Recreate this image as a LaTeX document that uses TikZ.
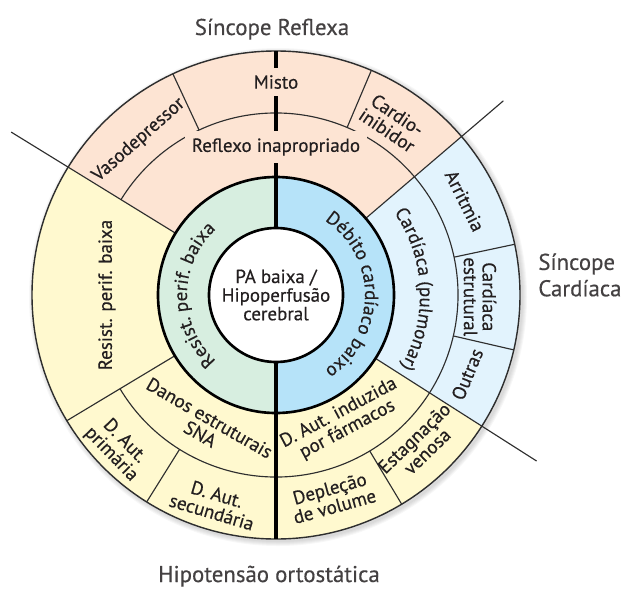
\documentclass[tikz,border=0pt]{standalone}
\usepackage{fontspec}
\setmainfont{PT Sans}[FakeBold=0.4]
\usepackage{tikz}
\usetikzlibrary{decorations.text}
\definecolor{reflexo}{HTML}{FDE4D3}
\definecolor{cardio}{HTML}{E2F3FD}
\definecolor{orto}{HTML}{FFF9CF}
\definecolor{debito}{HTML}{B6E3F9}
\definecolor{resist}{HTML}{D7EEE0}
\definecolor{ink}{HTML}{231F20}
\definecolor{rule}{HTML}{2E2E2E}
\newcommand{\lblfont}{\fontsize{10.8}{10.6}\selectfont}
\newcommand{\ringpart}[5]{%
  \fill[#1] (#2:#4) arc[start angle=#2,end angle=#3,radius=#4]
    -- (#3:#5) arc[start angle=#3,end angle=#2,radius=#5] -- cycle;}
\tikzset{
  lbl/.style={text=ink,font=\lblfont,align=center,inner sep=1pt},
  ttl/.style={text=ink!85,font=\fontsize{13}{15}\selectfont,inner sep=0pt},
  sepline/.style={draw=rule,line width=0.65pt},
  rimline/.style={draw=rule,line width=0.8pt},
  ringedge/.style={draw=black,line width=1.5pt},
  axisline/.style={draw=black,line width=2.1pt},
  arctext/.style={decorate,decoration={text along path,text align=center,
      text color=ink,text={|\lblfont|#1}}}
}

\begin{document}
\begin{tikzpicture}[x=0.02cm,y=0.02cm]
  \useasboundingbox (-276,-294) rectangle (345,295);
  % soft shadow
  \foreach \s in {1,...,5}
    \fill[black,opacity=0.03] (2,-2) circle[radius=244+\s];
  % sectors
  \ringpart{reflexo}{40.5}{148.4}{118}{244}
  \ringpart{orto}{148.4}{327.5}{118}{244}
  \ringpart{cardio}{-32.5}{40.5}{118}{244}
  \ringpart{resist}{90}{270}{67}{118}
  \ringpart{debito}{-90}{90}{67}{118}
  \fill[white] (0,0) circle[radius=67];
  % separators
  \draw[rimline] (0,0) circle[radius=244];
  \draw[sepline] (-149:182) arc[start angle=-149,end angle=148.4,radius=182];
  \foreach \a/\r in {148.4/311, 40.5/299, -32.5/309}
    \draw[sepline] (\a:118) -- (\a:\r);
  \foreach \a/\ri in {211/118, 115/182, 67/182, 12/182, -13/182, 238/182, 301/182}
    \draw[sepline] (\a:\ri) -- (\a:244);
  \draw[ringedge] (0,0) circle[radius=118];
  \draw[ringedge] (0,0) circle[radius=67];
  \draw[axisline] (90:67) -- (90:244);
  \draw[axisline] (270:67) -- (270:244);
  % labels
  \node[lbl,fill=reflexo,inner sep=4pt] (misto) at (90:213) {Misto};
  \node[lbl,fill=reflexo,inner sep=4pt] (reflexo) at (90:148) {Reflexo inapropriado};
  \foreach \a/\r/\rot/\txt/\nm in {
      131.5/207/41.5/{Vasodepressor}/vaso,
      56/208/-34/{Cardio-\\inibidor}/cardinib,
      26.5/211/-63.5/{Arritmia}/arrit,
      -0.5/204/-90/{Cardíaca\\estrutural}/estrut,
      -22.5/207/67.5/{Outras}/outras,
      -46/208/44/{Estagnação\\venosa}/estag,
      -74.5/210/15.5/{Depleção\\de volume}/deplec,
      -62/143/28/{D. Aut. induzida\\por fármacos}/farmacos,
      253.5/217/-16.5/{D. Aut.\\secundária}/secund,
      224/220/-46/{D. Aut.\\primária}/primar,
      241.5/149/-30/{Danos estruturais\\SNA}/danos,
      180/169/90/{Resist. perif. baixa}/resistext}
    \node[lbl,rotate=\rot] (\nm) at (\a:\r) {\txt};
  \path[arctext={Cardíaca (pulmonar)}] (40:144) arc[start angle=40,end angle=-35,radius=144];
  \path[arctext={Débito cardíaco baixo}] (75:89) arc[start angle=75,end angle=-75,radius=89];
  \path[arctext={Resist. perif. baixa}] (255:89) arc[start angle=255,end angle=105,radius=89];
  \node[lbl] (centro) at (0,0) {PA baixa /\\Hipoperfusão\\cerebral};
  % group titles
  \node[ttl,anchor=base] (tref) at (-4,260) {Síncope Reflexa};
  \node[ttl,anchor=west,align=left] (tcard) at (262,20) {Síncope\\Cardíaca};
  \node[ttl,anchor=base] (torto) at (-7,-287) {Hipotensão ortostática};
\end{tikzpicture}
\end{document}
